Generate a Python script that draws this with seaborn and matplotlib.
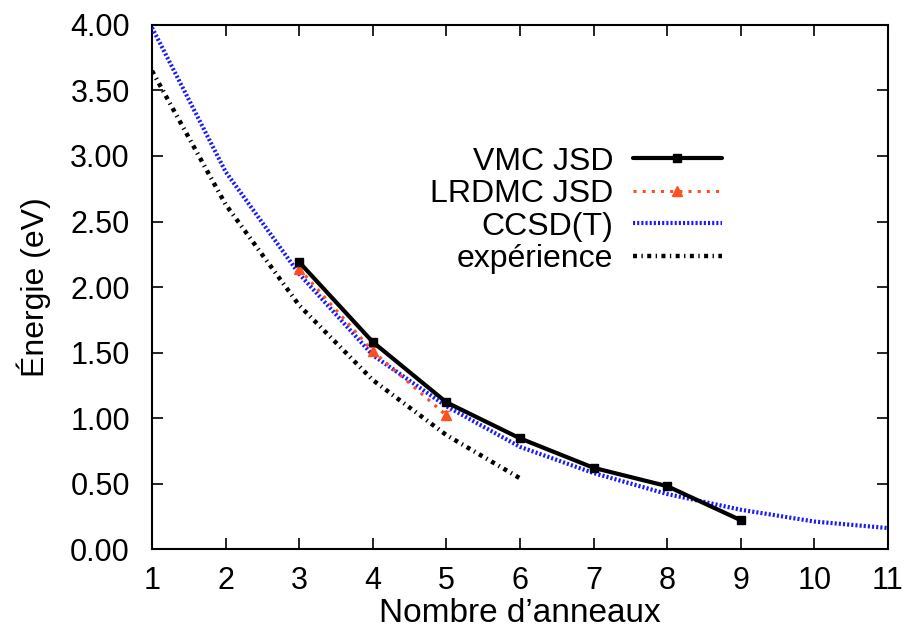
import numpy as np
import pandas as pd
import seaborn as sns
import matplotlib
matplotlib.use('Agg')
import matplotlib.pyplot as plt

# data
x_vmc = [3, 4, 5, 6, 7, 8, 9]
vmc = [2.19, 1.58, 1.12, 0.845, 0.62, 0.48, 0.22]
vmc_err = [0.01, 0.01, 0.01, 0.01, 0.01, 0.01, 0.01]

x_lrdmc = [3, 4, 5]
lrdmc = [2.14, 1.51, 1.02]
lrdmc_err = [0.03, 0.03, 0.03]

x_ccsd = [1, 2, 3, 4, 5, 6, 7, 8, 9, 10, 11]
ccsd = [3.98, 2.88, 2.10, 1.48, 1.09, 0.78, 0.58, 0.42, 0.30, 0.21, 0.16]

x_exp = [1, 2, 3, 4, 5, 6]
exp_vals = [3.65, 2.63, 1.86, 1.29, 0.87, 0.54]

xticks = list(range(1, 12))
yticks = [0, 0.5, 1, 1.5, 2, 2.5, 3, 3.5, 4]

sns.set_theme(style='ticks')
plt.rcParams['font.family'] = ['Liberation Sans', 'DejaVu Sans']
plt.rcParams['font.size'] = 22
plt.rcParams['text.color'] = 'black'
plt.rcParams['axes.labelcolor'] = 'black'

fig = plt.figure(figsize=(9.07, 6.34), dpi=100)
ax = fig.add_axes([0.1676, 0.134, 0.979 - 0.1676, 0.9606 - 0.134])

df_ccsd = pd.DataFrame({'x': x_ccsd, 'y': ccsd})
df_exp = pd.DataFrame({'x': x_exp, 'y': exp_vals})

# VMC with error bars
eb_vmc = ax.errorbar(x_vmc, vmc, yerr=vmc_err, color='black', lw=3, marker='s',
                     markersize=6, capsize=3, elinewidth=2, zorder=5)

# LRDMC
eb_lrdmc = ax.errorbar(x_lrdmc, lrdmc, yerr=lrdmc_err, color='#ff4f1f', lw=2.2,
                       ls=(0, (1, 2)), marker='^', markersize=6.5, capsize=3,
                       elinewidth=2, zorder=4)

# CCSD(T)
sns.lineplot(data=df_ccsd, x='x', y='y', ax=ax, color='#1a1aff', lw=3,
             zorder=3, legend=False)
h_ccsd = ax.lines[-1]
h_ccsd.set_dashes((0.5, 0.5))

# experiment
sns.lineplot(data=df_exp, x='x', y='y', ax=ax, color='black', lw=3.2,
             zorder=3, legend=False)
h_exp = ax.lines[-1]
h_exp.set_dashes((0.9, 1.0, 0.3, 1.0))

ax.set_xlim(1, 11)
ax.set_ylim(0, 4)
ax.set_xticks(xticks)
ax.set_yticks(yticks)
ax.set_yticklabels([f'{v:.2f}' for v in yticks])
ax.tick_params(direction='in', length=8, width=1.2, top=True, right=True,
               labelsize=22, colors='black')
ax.tick_params(axis='x', pad=12)
ax.tick_params(axis='y', pad=16)
for s in ax.spines.values():
    s.set_linewidth(1.5)
    s.set_color('black')
    s.set_visible(True)

ax.set_xlabel("Nombre d’anneaux", fontsize=24, labelpad=2)
ax.set_ylabel('Énergie (eV)', fontsize=23, labelpad=14)

# gnuplot-style key: labels right aligned, samples on the right
handles = [eb_vmc.lines[0], eb_lrdmc.lines[0], h_ccsd, h_exp]
labels = ['VMC JSD', 'LRDMC JSD', 'CCSD(T)', 'expérience']
leg = ax.legend(handles, labels, loc='upper right',
                bbox_to_anchor=(0.7745, 0.768), frameon=False, markerfirst=False,
                handlelength=2.8, handletextpad=0.6, labelspacing=0.08,
                fontsize=23, borderpad=0, borderaxespad=0, numpoints=1)

fig.savefig('out.png', dpi=100)
